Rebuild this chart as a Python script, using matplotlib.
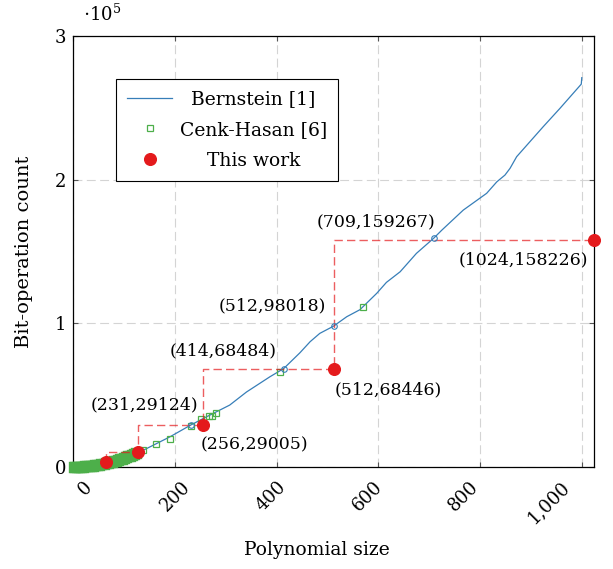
import matplotlib
matplotlib.use("Agg")
import matplotlib.pyplot as plt
from matplotlib.transforms import ScaledTranslation

plt.rcParams['font.family'] = ['DejaVu Serif']
plt.rcParams['mathtext.fontset'] = 'dejavuserif'
plt.rcParams['font.size'] = 12.5

# Bernstein [1]
bern_n = [1, 32, 64, 100, 131, 190, 231, 260, 308, 341, 387, 414, 446, 466, 485,
          512, 538, 564, 597, 616, 643, 675, 709, 725, 767, 813, 833, 849, 859,
          872, 924, 957, 999, 1000]
bern_ops = [0, 800, 3100, 6800, 10400, 20900, 29124, 34500, 43100, 52200, 62800,
            68484, 79500, 87200, 93000, 98018, 104600, 109500, 120900, 128500,
            135900, 148700, 159267, 164900, 178800, 190500, 198500, 203200,
            207900, 216000, 236800, 249600, 266500, 271000]
bern_mark_n = [231, 414, 512, 709]
bern_mark_ops = [29124, 68484, 98018, 159267]

# Cenk-Hasan [6]: dense run of small sizes, then isolated sizes
ch_dense_n = [1, 4, 8, 12, 16, 20, 24, 28, 32, 36, 40, 44, 48, 52, 56, 60, 64,
              68, 72, 76, 80, 84, 88, 92, 96, 100, 104, 108, 112, 116, 120, 124]
ch_dense_ops = [0, 10, 40, 90, 160, 250, 360, 490, 640, 810, 1000, 1210, 1440,
                1700, 1970, 2260, 2580, 2910, 3260, 3640, 4030, 4450, 4880, 5330,
                5810, 6300, 6820, 7350, 7900, 8480, 9070, 9690]
ch_n = [128, 138, 164, 190, 231, 251, 268, 273, 282, 407, 569]
ch_ops = [10320, 11800, 15900, 19700, 28600, 33600, 35300, 35800, 37800,
          66300, 111300]

# This work
tw_n = [64, 128, 256, 512, 1024]
tw_ops = [3600, 10600, 29005, 68446, 158226]

# labelled points
note_n = [231, 256, 414, 512, 512, 709, 1024]
note_ops = [29124, 29005, 68484, 98018, 68446, 159267, 158226]
note_dx = [8, -3, -7, -8, 1, 2, -6]
note_dy = [12, -11, 9, 12, -13, 8, -12]
note_ha = ['right', 'left', 'right', 'right', 'left', 'right', 'right']
note_va = ['bottom', 'top', 'bottom', 'bottom', 'top', 'bottom', 'top']

xticks = [0, 200, 400, 600, 800, 1000]
xtick_labels = ['0', '200', '400', '600', '800', '1,000']
xtick_dx = [10, 6, 0, -5, -11, -21]
yticks = [0, 1, 2, 3]
scale = 1e5

blue = '#377eb8'
green = '#4daf4a'
red = '#e41a1c'

fig = plt.figure(figsize=(6.13, 5.69), dpi=100)
ax = fig.add_axes([73 / 613, 1 - 467 / 569, 521 / 613, 431 / 569])

ax.plot(bern_n, bern_ops, color=blue, lw=0.9, label='Bernstein [1]', zorder=2)
ax.plot(bern_mark_n, bern_mark_ops, ls='none', marker='o', ms=4, mfc='none',
        mec=blue, mew=0.8, zorder=5)
ax.plot(ch_dense_n, ch_dense_ops, ls='none', marker='s', ms=6, mfc='none',
        mec=green, mew=2.4, clip_on=False, zorder=3)
ax.plot(ch_n, ch_ops, ls='none', marker='s', ms=5, mfc='none', mec=green,
        mew=0.9, label='Cenk-Hasan [6]', clip_on=False, zorder=3)
ax.step(tw_n, tw_ops, where='pre', color=red, alpha=0.7, lw=1,
        dashes=(6, 3), clip_on=False, zorder=4)
ax.plot(tw_n, tw_ops, ls='none', marker='o', ms=8.4, color=red,
        label='This work', clip_on=False, zorder=6)

for n, v, dx, dy, ha, va in zip(note_n, note_ops, note_dx, note_dy, note_ha, note_va):
    ax.annotate(f'({n},{v})', xy=(n, v), xytext=(dx * 0.72, dy * 0.72),
                textcoords='offset points', ha=ha, va=va, zorder=7)

ax.set_xlim(0, 1024)
ax.set_ylim(0, 3 * scale)
ax.set_xticks(xticks)
ax.set_xticklabels(xtick_labels, rotation=45, rotation_mode='anchor',
                   ha='right', va='top', fontsize=13)
ax.set_yticks([t * scale for t in yticks])
ax.set_yticklabels([str(t) for t in yticks], fontsize=13)
ax.tick_params(direction='in', length=3.5, width=0.8, color='#555555',
               top=True, right=True)
ax.tick_params(axis='x', pad=8)
ax.tick_params(axis='y', pad=5)
for lab, dx in zip(ax.get_xticklabels(), xtick_dx):
    lab.set_transform(lab.get_transform() +
                      ScaledTranslation(dx / 100, 0, fig.dpi_scale_trans))

ax.grid(True, color='#d4d4d4', lw=0.8, dashes=(8, 4))
ax.set_axisbelow(True)
for s in ax.spines.values():
    s.set_linewidth(0.9)

ax.text(0.019, 1.025, r'$\cdot10^{5}$', transform=ax.transAxes,
        ha='left', va='bottom', fontsize=13)

ax.set_xlabel('Polynomial size', fontsize=13.5)
ax.xaxis.set_label_coords(0.469, -0.172)
ax.set_ylabel('Bit-operation count', fontsize=14)
ax.yaxis.set_label_coords(-0.077, 0.5)

leg = ax.legend(loc='upper left', bbox_to_anchor=(43 / 521, 388 / 431),
                borderaxespad=0, fancybox=False, framealpha=1,
                edgecolor='black', handlelength=2.4, handletextpad=0.4,
                labelspacing=0.68, borderpad=0.6, fontsize=13.5)
leg.get_frame().set_linewidth(0.8)

fig.canvas.draw()
widths = [t.get_window_extent().width for t in leg.get_texts()]
for t, w in zip(leg.get_texts(), widths):
    t.set_x((max(widths) - w) / 2)

fig.savefig('out.png', dpi=100)
